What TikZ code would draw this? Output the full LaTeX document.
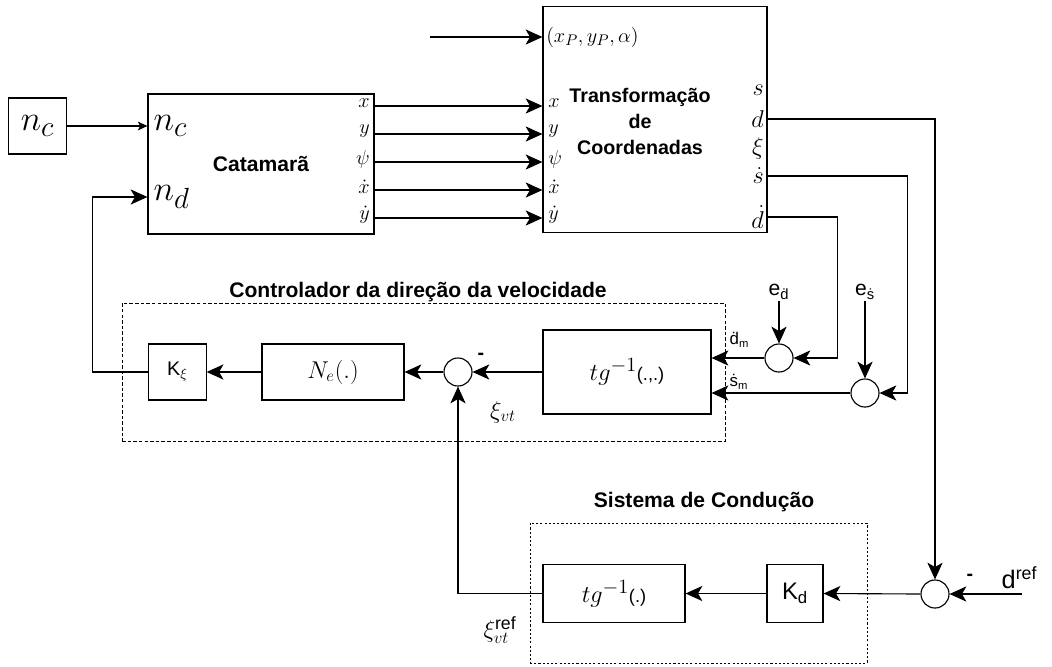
\documentclass[tikz,border=0pt]{standalone}
\usepackage{amsmath}
\usepackage{fontspec}
\setsansfont{Liberation Sans}
\usetikzlibrary{arrows.meta, positioning, fit, calc}

\begin{document}
\begin{tikzpicture}[
    x=0.025cm, y=-0.025cm,
    every node/.style={font=\sffamily},
    title/.style={font=\sffamily\bfseries\fontsize{15}{18}\selectfont},
    lbl/.style={font=\fontsize{14}{16}\selectfont, inner sep=0pt},
    biglbl/.style={font=\fontsize{28}{30}\selectfont, inner sep=1pt},
    sflbl/.style={font=\sffamily\fontsize{14}{16}\selectfont, inner sep=1pt},
    box/.style={
        draw=black,
        line width=0.8pt,
        fill=white,
        inner sep=0pt
    },
    sumnode/.style={
        draw=black,
        circle,
        line width=0.8pt,
        fill=white,
        minimum size=0.7cm,
        inner sep=0pt
    },
    dashbox/.style={
        draw=black,
        line width=0.7pt,
        dash pattern=on 2.5pt off 1.5pt,
        inner sep=0pt
    },
    arrow/.style={-{Stealth[length=4.2mm, width=3.8mm, inset=1.1mm]}, line width=0.8pt},
    smallarrow/.style={-{Stealth[length=2.4mm, width=2.2mm, inset=0.6mm]}, line width=0.8pt}
]

\useasboundingbox (0,0) rectangle (1052,666);

\node[dashbox, fit={(122,303) (725,441)}] (ctrl) {};
\node[dashbox, dash pattern=on 1.5pt off 1.5pt, fit={(530,523) (867,663)}] (cond) {};
\node[title] (ctrltitle) at (418,292) {Controlador da direção da velocidade};
\node[title] (condtitle) at (704,502) {Sistema de Condução};

\node[box, minimum width=1.43cm, minimum height=1.4cm, biglbl] (ncin) at (37.5,126) {$n_c$};
\node[box, minimum width=5.65cm, minimum height=3.5cm, title] (cat) at (261,164) {Catamarã};
\node[biglbl, anchor=west] (catnc) at (152,126) {$n_c$};
\node[biglbl, anchor=west] (catnd) at (152,197) {$n_d$};

\node[box, minimum width=5.6cm, minimum height=5.63cm] (tr) at (655,119.5) {};
\node[title, font=\sffamily\bfseries\fontsize{14}{18.5}\selectfont, align=center] (trtitle) at (640,121)
{Transformação\\de\\Coordenadas};
\coordinate (pin) at (430,37);
\node[lbl, font=\fontsize{15}{18}\selectfont, anchor=west] (ppos) at (546,37) {$(x_P,y_P,\alpha)$};
\draw[arrow] (pin) -- (tr.west |- pin);

\foreach \v/\n/\yy in {x/cx/106, y/cy/134, \psi/cpsi/162, \dot{x}/cdx/190, \dot{y}/cdy/218} {
    \coordinate (\n) at (0,\yy);
    \node[lbl, anchor=east] at (370,\yy-3) {$\v$};
    \node[lbl, anchor=west] at (548,\yy-3) {$\v$};
    \draw[arrow] (cat.east |- \n) -- (tr.west |- \n);
}

\node[lbl, font=\fontsize{16}{18}\selectfont, anchor=east] (sout) at (764,90) {$s$};
\node[lbl, font=\fontsize{16}{18}\selectfont, anchor=east] (dout) at (764,119) {$d$};
\node[lbl, font=\fontsize{16}{18}\selectfont, anchor=east] (xiout) at (764,148) {$\xi$};
\node[lbl, font=\fontsize{16}{18}\selectfont, anchor=east] (sdout) at (764,176) {$\dot{s}$};
\node[lbl, font=\fontsize{16}{18}\selectfont, anchor=east] (ddout) at (764,217) {$\dot{d}$};

\node[sumnode] (sumd) at (779,358) {};
\node[sumnode] (sums) at (865,393) {};
\node[sumnode] (sumx) at (458,372) {};
\node[sumnode] (sumr) at (935,594) {};

\node[sflbl, font=\sffamily\fontsize{15}{17}\selectfont, anchor=south] (ed) at (779,301) {e\textsubscript{\.d}};
\node[sflbl, font=\sffamily\fontsize{15}{17}\selectfont, anchor=south] (es) at (865,301) {e\textsubscript{\.s}};
\node[sflbl, font=\sffamily\fontsize{12}{14}\selectfont, anchor=west] (dm) at (728,340) {\.d\textsubscript{m}};
\node[sflbl, font=\sffamily\fontsize{12}{14}\selectfont, anchor=west] (sm) at (728,382) {\.s\textsubscript{m}};

\node[box, minimum width=4.2cm, minimum height=2.1cm, font=\sffamily\fontsize{19}{22}\selectfont] (tgtwo) at (627,372)
{$tg^{-1}$\fontsize{13}{15}\selectfont(.,.)};
\node[box, minimum width=3.55cm, minimum height=1.4cm, font=\fontsize{17}{20}\selectfont] (ne) at (333,372) {$N_e(.)$};
\node[box, minimum width=1.43cm, minimum height=1.4cm, sflbl] (kx) at (177.5,372) {K\textsubscript{$\xi$}};
\node[sflbl, font=\sffamily\bfseries\fontsize{14}{16}\selectfont] (mx) at (481,356) {-};
\node[font=\fontsize{17}{20}\selectfont] (xvt) at (503,412) {$\xi_{vt}$};

\node[box, minimum width=3.55cm, minimum height=1.43cm, font=\sffamily\fontsize{19}{22}\selectfont] (tgone) at (614,593.5)
{$tg^{-1}$\fontsize{13}{15}\selectfont(.)};
\node[box, minimum width=1.4cm, minimum height=1.43cm, sflbl, font=\sffamily\fontsize{17}{19}\selectfont] (kd) at (795,593.5) {K\textsubscript{d}};
\node[font=\sffamily\fontsize{18}{20}\selectfont] (xref) at (500,630) {$\xi^{\text{ref}}_{vt}$};
\node[sflbl, font=\sffamily\bfseries\fontsize{14}{16}\selectfont] (mr) at (970,577) {-};
\node[sflbl, font=\sffamily\fontsize{18}{20}\selectfont, anchor=west] (dref) at (1000,578) {d\textsuperscript{ref}};
\coordinate (din) at (1022,594);

\draw[smallarrow] (ncin.east) -- (cat.west |- ncin);
\draw[arrow] (kx.west) -- ++(-56,0) |- (cat.west |- catnd);
\draw[arrow] (tr.east |- dout) -| (sumr.north);
\draw[arrow] (tr.east |- sdout) -- ++(140,0) |- (sums.east);
\draw[arrow] (tr.east |- ddout) -- ++(70,0) |- (sumd.east);
\draw[arrow] (ed.south) -- (sumd.north);
\draw[arrow] (es.south) -- (sums.north);
\draw[arrow] (sumd.west) -- (tgtwo.east |- sumd);
\draw[arrow] (sums.west) -- (tgtwo.east |- sums);
\draw[arrow] (tgtwo.west) -- (sumx.east);
\draw[arrow] (sumx.west) -- (ne.east);
\draw[arrow] (ne.west) -- (kx.east);
\draw[arrow] (din) -- (sumr.east);
\draw[arrow] (sumr.west) -- (kd.east);
\draw[arrow] (kd.west) -- (tgone.east);
\draw[arrow] (tgone.west) -| (sumx.south);

\end{tikzpicture}
\end{document}
